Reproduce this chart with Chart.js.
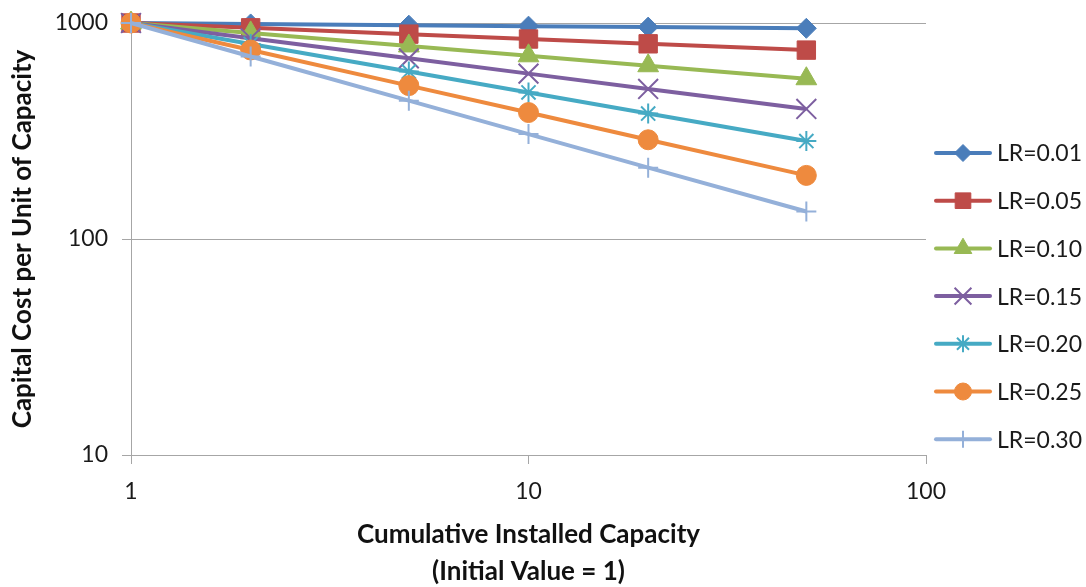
<!DOCTYPE html>
<html>
<head>
<meta charset="utf-8">
<script src="https://cdn.jsdelivr.net/npm/chart.js@4.4.1/dist/chart.umd.min.js"></script>
<style>
  html, body { margin: 0; padding: 0; background: #fff; }
</style>
</head>
<body>
<canvas id="chart" width="1086" height="587"></canvas>
<script>
// data
const capacity = [1, 2, 5, 10, 20, 50];
const seriesLabels = ["LR=0.01", "LR=0.05", "LR=0.10", "LR=0.15", "LR=0.20", "LR=0.25", "LR=0.30"];
const lr01 = [1000, 990, 977, 967, 957, 945];
const lr05 = [1000, 950, 888, 843, 801, 749];
const lr10 = [1000, 900, 783, 705, 634, 552];
const lr15 = [1000, 850, 686, 583, 495, 400];
const lr20 = [1000, 800, 596, 477, 381, 284];
const lr25 = [1000, 750, 513, 385, 288, 197];
const lr30 = [1000, 700, 437, 306, 214, 134];
const xTickValues = [1, 10, 100];
const yTickValues = [10, 100, 1000];
const xTitle = ["Cumulative Installed Capacity", "(Initial Value = 1)"];
const yTitle = "Capital Cost per Unit of Capacity";

const series = [lr01, lr05, lr10, lr15, lr20, lr25, lr30];
const colors = ["#4A7DBA", "#BE4B48", "#98B954", "#7D5FA0", "#46AAC4", "#EE8A3E", "#94B0D9"];
const markers = [
  { style: "rectRot", radius: 10, border: 1 },
  { style: "rect", radius: 13, border: 1 },
  { style: "triangle", radius: 12, border: 1 },
  { style: "crossRot", radius: 14, border: 2 },
  { style: "star", radius: 10, border: 2 },
  { style: "circle", radius: 10, border: 1 },
  { style: "cross", radius: 10, border: 2 }
];

const FONT = "Lato, 'Open Sans', sans-serif";
const GRID = "#A6A6A6";

const datasets = series.map((vals, i) => ({
  label: seriesLabels[i],
  data: vals.map((v, k) => ({ x: capacity[k], y: v })),
  borderColor: colors[i],
  backgroundColor: colors[i],
  borderWidth: 4,
  tension: 0,
  clip: false,
  pointStyle: markers[i].style,
  pointRadius: markers[i].radius,
  pointHoverRadius: markers[i].radius,
  pointBorderWidth: markers[i].border,
  pointBorderColor: colors[i],
  pointBackgroundColor: colors[i],
  order: series.length - i
}));

// legend drawn as line + marker, like the spreadsheet one
const sideLegend = {
  id: "sideLegend",
  afterDraw(chart) {
    const { ctx, chartArea } = chart;
    const x0 = chartArea.right + 10;
    const top = 153, step = 47.7;
    ctx.save();
    seriesLabels.forEach((label, i) => {
      const y = top + i * step;
      ctx.strokeStyle = colors[i];
      ctx.fillStyle = colors[i];
      ctx.lineWidth = 4;
      ctx.lineCap = "round";
      ctx.beginPath();
      ctx.moveTo(x0, y);
      ctx.lineTo(x0 + 54, y);
      ctx.stroke();
      ctx.lineCap = "butt";
      ctx.lineWidth = markers[i].border;
      Chart.helpers.drawPoint(ctx, {
        pointStyle: markers[i].style,
        radius: markers[i].radius * 0.85,
        rotation: 0,
        borderWidth: markers[i].border
      }, x0 + 27, y);
      ctx.fillStyle = "#1a1a1a";
      ctx.font = "23px " + FONT;
      ctx.textAlign = "left";
      ctx.textBaseline = "middle";
      ctx.fillText(label, x0 + 61, y + 1);
    });
    ctx.restore();
  }
};

new Chart(document.getElementById("chart"), {
  type: "line",
  data: { datasets },
  plugins: [sideLegend],
  options: {
    responsive: false,
    animation: false,
    layout: { padding: { left: 0, right: 160, top: 23, bottom: 0 } },
    plugins: { legend: { display: false }, tooltip: { enabled: false } },
    scales: {
      x: {
        type: "logarithmic",
        min: 1,
        max: 100,
        afterBuildTicks: s => { s.ticks = xTickValues.map(v => ({ value: v })); },
        afterFit: s => { s.height = 587 - 455; },
        ticks: {
          callback: v => String(v),
          color: "#1a1a1a",
          font: { family: FONT, size: 23 },
          padding: 14,
          maxRotation: 0,
          autoSkip: false
        },
        grid: { drawOnChartArea: false, tickLength: 9, tickColor: GRID, color: GRID },
        border: { color: GRID, width: 1 },
        title: {
          display: true,
          text: xTitle,
          color: "#111",
          font: { family: FONT, size: 26, weight: "bold", lineHeight: 1.42 },
          padding: { top: 0, bottom: -3 }
        }
      },
      y: {
        type: "logarithmic",
        min: 10,
        max: 1000,
        afterBuildTicks: s => { s.ticks = yTickValues.map(v => ({ value: v })); },
        afterFit: s => { s.width = 131; s.paddingTop = 0; s.paddingBottom = 0; },
        ticks: {
          callback: v => String(v),
          color: "#1a1a1a",
          font: { family: FONT, size: 23 },
          padding: 14,
          autoSkip: false
        },
        grid: { color: GRID, tickLength: 9, tickColor: GRID },
        border: { color: GRID, width: 1 },
        title: {
          display: true,
          text: yTitle,
          color: "#111",
          font: { family: FONT, size: 26, weight: "bold", lineHeight: 1.2 },
          padding: { top: 7, bottom: 0 }
        }
      }
    }
  }
});
</script>
</body>
</html>
